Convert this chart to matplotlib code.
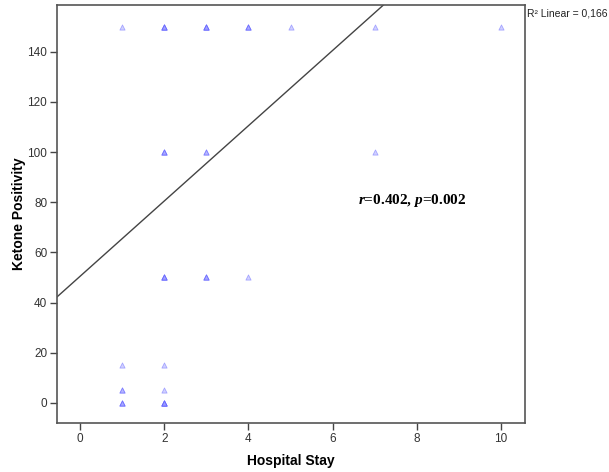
import numpy as np
import matplotlib.pyplot as plt

# Hospital stay vs ketone positivity (repeats = overlapping cases)
stay = [1, 2, 3, 4, 5, 7, 10, 2, 3, 7, 2, 3, 4, 1, 2, 1, 2, 1, 2]
ketone = [150, 150, 150, 150, 150, 150, 150, 100, 100, 100,
          50, 50, 50, 15, 15, 5, 5, 0, 0]
counts = [1, 4, 4, 3, 1, 1, 1, 3, 2, 1, 4, 3, 1, 1, 1, 2, 1, 3, 5]

# fit line as printed in the figure
intercept = 50.5
slope = 15.0
r2_text = 'R² Linear = 0,166'
stat_text = r'$r$=0.402, $p$=0.002'

plt.rcParams['font.family'] = 'Liberation Sans'
plt.rcParams['mathtext.fontset'] = 'custom'
plt.rcParams['mathtext.it'] = 'Liberation Serif:italic:bold'
plt.rcParams['mathtext.rm'] = 'Liberation Serif:bold'

fig = plt.figure(figsize=(6.09, 4.72), dpi=100)
ax = fig.add_axes([0.0936, 0.1038, 0.7684, 0.8856])

x = np.repeat(stay, counts)
y = np.repeat(ketone, counts)
ax.scatter(x, y, marker='^', s=14, facecolors='#9999ff', edgecolors='#5555ff',
           linewidths=0.6, alpha=0.45, zorder=3)

xlim = (-0.55, 10.57)
ylim = (-8, 158.6)
xs = np.array(xlim)
ax.plot(xs, intercept + slope * xs, color='#444444', lw=1.0, zorder=2)

ax.set_xlim(*xlim)
ax.set_ylim(*ylim)
ax.set_xticks([0, 2, 4, 6, 8, 10])
ax.set_yticks([0, 20, 40, 60, 80, 100, 120, 140])

for s in ax.spines.values():
    s.set_color('#555555')
    s.set_linewidth(1.2)
ax.tick_params(direction='out', length=5, width=1.0, color='#444444',
               labelsize=8.5, labelcolor='#333333', pad=2)

ax.set_xlabel('Hospital Stay', fontsize=10, fontweight='bold', labelpad=7)
ax.set_ylabel('Ketone Positivity', fontsize=10, fontweight='bold', labelpad=1)

ax.text(7.9, 80.5, stat_text, fontsize=11, fontfamily='Liberation Serif',
        fontweight='bold', ha='center', va='center')
fig.text(0.866, 0.972, r2_text, fontsize=7.5, ha='left', va='center',
         color='#222222')

fig.savefig('out.png', dpi=100)
